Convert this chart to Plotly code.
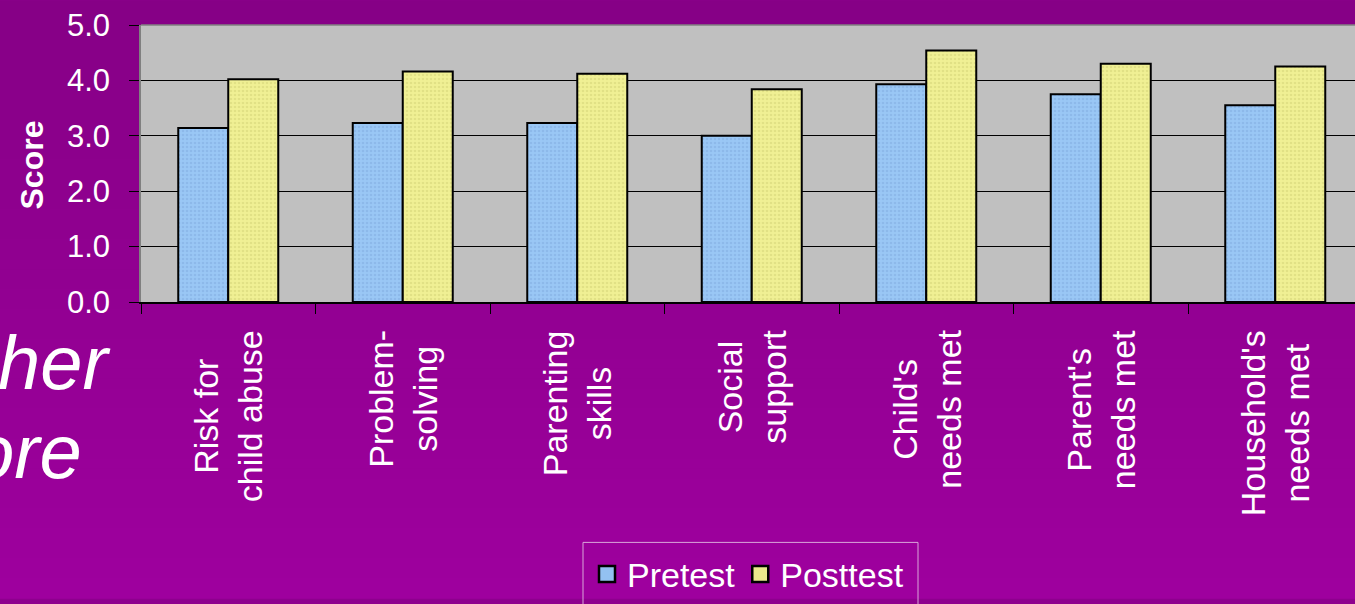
import plotly.graph_objects as go

# ---------------- data ----------------
categories = ["Risk for<br>child abuse", "Problem-<br>solving", "Parenting<br>skills",
              "Social<br>support", "Child's<br>needs met", "Parent's<br>needs met",
              "Household's<br>needs met"]
pretest = [3.14, 3.23, 3.23, 3.00, 3.93, 3.75, 3.55]
posttest = [4.02, 4.16, 4.12, 3.84, 4.54, 4.30, 4.25]
series_names = ["Pretest", "Posttest"]
y_tick_vals = [0, 1, 2, 3, 4, 5]
y_tick_text = ["0.0", "1.0", "2.0", "3.0", "4.0", "5.0"]
y_title = "Score"
side_text = ["her", "ore"]

# ---------------- layout geometry ----------------
W, H = 1355, 604
ML, MR, MT, MB = 141, 0, 25, 299
PW = W - ML - MR
PH = H - MT - MB
CAT_PX = 174.5


def px_x(px):
    return (px - ML) / PW


def px_y(py):
    return (H - MB - py) / PH


FONT = "Arial, Liberation Sans, Helvetica, sans-serif"
BLUE = "#93C1F1"
YELLOW = "#EAEA8C"

fig = go.Figure()
fig.add_trace(go.Bar(
    x=categories, y=pretest, name=series_names[0], showlegend=False,
    marker=dict(color=BLUE, line=dict(color="black", width=2),
                pattern=dict(shape=".", bgcolor="#9AC7F5", fgcolor="#7FACE0",
                             size=4, solidity=0.35)),
))
fig.add_trace(go.Bar(
    x=categories, y=posttest, name=series_names[1], showlegend=False,
    marker=dict(color=YELLOW, line=dict(color="black", width=2),
                pattern=dict(shape=".", bgcolor="#F0F094", fgcolor="#D2D276",
                             size=4, solidity=0.35)),
))
# legend entries
for nm, col in zip(series_names, [BLUE, YELLOW]):
    fig.add_trace(go.Scatter(
        x=[None], y=[None], name=nm, mode="markers",
        marker=dict(symbol="square", size=16, color=col,
                    line=dict(color="black", width=2.5)),
    ))

# background gradient (purple, lighter toward bottom)
shapes = []
NB = 60
c_top = (134, 0, 134)
c_bot = (158, 0, 158)
for i in range(NB):
    t = i / (NB - 1)
    c = tuple(round(a + (b - a) * t) for a, b in zip(c_top, c_bot))
    y0p = i * H / NB
    y1p = (i + 1) * H / NB + 1
    shapes.append(dict(type="rect", xref="paper", yref="paper",
                       x0=px_x(0), x1=px_x(W), y0=px_y(y1p), y1=px_y(y0p),
                       fillcolor="rgb(%d,%d,%d)" % c, line=dict(width=0),
                       layer="below"))
# plot area
shapes.append(dict(type="rect", xref="paper", yref="paper", x0=0, x1=1, y0=0, y1=1,
                   fillcolor="#C0C0C0", line=dict(width=0), layer="below"))
# top border of plot area
shapes.append(dict(type="line", xref="paper", yref="paper", x0=0, x1=1, y0=1, y1=1,
                   line=dict(color="#808080", width=1.5), layer="above"))
# legend frame (runs off the bottom edge, as in the original slide)
shapes.append(dict(type="rect", xref="paper", yref="paper",
                   x0=px_x(583), x1=px_x(918), y0=px_y(640), y1=px_y(548),
                   fillcolor="rgba(0,0,0,0)", line=dict(color="#D9A6D9", width=1),
                   layer="above"))

annotations = []
for cat in categories:
    annotations.append(dict(
        x=cat, xref="x", y=0, yref="paper", yanchor="top", xanchor="center",
        yshift=-26, textangle=-90, align="center", showarrow=False, text=cat,
        font=dict(family=FONT, size=34, color="white")))
annotations.append(dict(
    x=px_x(32), xref="paper", y=px_y(167), yref="paper", xanchor="center",
    yanchor="middle", textangle=-90, showarrow=False, text="<b>%s</b>" % y_title,
    font=dict(family=FONT, size=32, color="white")))
annotations.append(dict(
    x=px_x(113), xref="paper", y=px_y(366), yref="paper", xanchor="right",
    yanchor="middle", showarrow=False, text=side_text[0],
    font=dict(family=FONT, size=76, color="white", style="italic")))
annotations.append(dict(
    x=px_x(84), xref="paper", y=px_y(456), yref="paper", xanchor="right",
    yanchor="middle", showarrow=False, text=side_text[1],
    font=dict(family=FONT, size=76, color="white", style="italic")))

fig.update_layout(
    width=W, height=H,
    margin=dict(l=ML, r=MR, t=MT, b=MB, pad=0),
    paper_bgcolor="#8E008E",
    plot_bgcolor="rgba(0,0,0,0)",
    barmode="group",
    bargap=1 - 100 / CAT_PX,
    bargroupgap=0,
    shapes=shapes,
    annotations=annotations,
    font=dict(family=FONT, color="white"),
    legend=dict(orientation="h", x=px_x(748), xanchor="center",
                y=px_y(551), yanchor="top",
                font=dict(family=FONT, size=34, color="white"),
                bgcolor="rgba(0,0,0,0)", borderwidth=0),
    showlegend=True,
)
fig.update_xaxes(
    type="category", range=[-0.5, -0.5 + PW / CAT_PX],
    showticklabels=False, ticks="outside", tickson="boundaries",
    ticklen=10, tickcolor="black", tickwidth=1,
    showline=True, linecolor="black", linewidth=1.5, showgrid=False,
)
fig.update_yaxes(
    range=[0, 5], tickvals=y_tick_vals, ticktext=y_tick_text,
    ticks="outside", ticklen=10, tickcolor="black", tickwidth=1,
    ticklabelstandoff=13,
    tickfont=dict(family=FONT, size=31, color="white"),
    showgrid=True, gridcolor="black", gridwidth=1,
    showline=True, linecolor="#808080", linewidth=1.5, zeroline=False,
)

fig.write_html(
    "out.html", config={"displayModeBar": False},
    post_script="document.body.style.margin='0';document.body.style.padding='0';"
                "document.body.style.overflow='hidden';",
)
